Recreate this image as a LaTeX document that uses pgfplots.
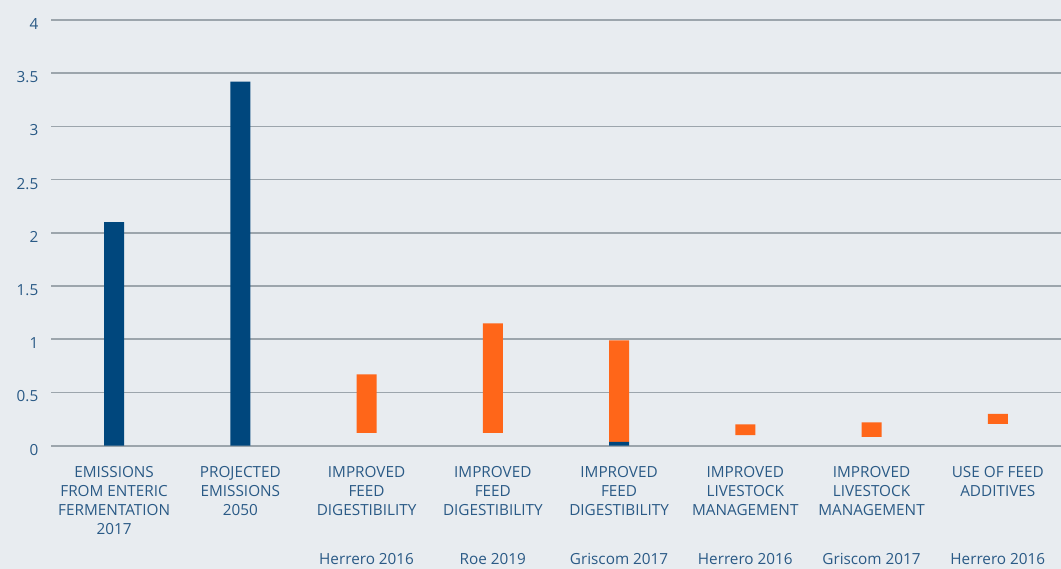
\documentclass[border=0pt]{standalone}
\usepackage{pgfplots}
\pgfplotsset{compat=1.18}
\usepackage{fontspec}
\setmainfont{Open Sans}
\definecolor{bgc}{HTML}{E8ECF0}
\definecolor{gridc}{HTML}{9CA5AC}
\definecolor{navy}{HTML}{00477D}
\definecolor{orng}{HTML}{FF6619}
\definecolor{txtc}{HTML}{2A5A86}
\begin{document}
\begin{tikzpicture}
\fill[bgc,use as bounding box] (0,0) rectangle (1061pt,569pt);
\begin{axis}[
  at={(51pt,123.3pt)}, anchor=south west,
  scale only axis, width=1010pt, height=425.7pt,
  xmin=-0.5, xmax=7.5, ymin=0, ymax=4,
  ytick={0,0.5,...,4},
  xtick={0,...,7},
  xticklabels={
    {EMISSIONS\\FROM ENTERIC\\FERMENTATION\\2017},
    {PROJECTED\\EMISSIONS\\2050},
    {IMPROVED\\FEED\\DIGESTIBILITY\\\mbox{}\\[11pt]Herrero 2016},
    {IMPROVED\\FEED\\DIGESTIBILITY\\\mbox{}\\[11pt]Roe 2019},
    {IMPROVED\\FEED\\DIGESTIBILITY\\\mbox{}\\[11pt]Griscom 2017},
    {IMPROVED\\LIVESTOCK\\MANAGEMENT\\\mbox{}\\[11pt]Herrero 2016},
    {IMPROVED\\LIVESTOCK\\MANAGEMENT\\\mbox{}\\[11pt]Griscom 2017},
    {USE OF FEED\\ADDITIVES\\\mbox{}\\\mbox{}\\[11pt]Herrero 2016}},
  major tick length=0pt,
  axis line style={draw=none},
  ymajorgrids, grid style={color=gridc, line width=1.7pt},
  /pgf/number format/assume math mode=true,
  yticklabel style={anchor=east, inner sep=0pt, xshift=-12.5pt, yshift=-4pt,
    font=\fontsize{15.3}{17}\selectfont, text=txtc},
  xticklabel style={anchor=north, inner sep=0pt, yshift=-20.5pt, align=center,
    font=\fontsize{15.3}{18.9}\selectfont, text=txtc},
  ybar stacked, bar width=20pt,
]
\addplot[draw=none, fill=navy] coordinates {(0,2.10) (1,3.42) (2,0) (3,0) (4,0.035) (5,0) (6,0) (7,0)};
\addplot[draw=none, fill=none] coordinates {(0,0) (1,0) (2,0.12) (3,0.12) (4,0) (5,0.10) (6,0.083) (7,0.205)};
\addplot[draw=none, fill=orng] coordinates {(0,0) (1,0) (2,0.55) (3,1.03) (4,0.955) (5,0.10) (6,0.137) (7,0.095)};
\end{axis}
\end{tikzpicture}
\end{document}
